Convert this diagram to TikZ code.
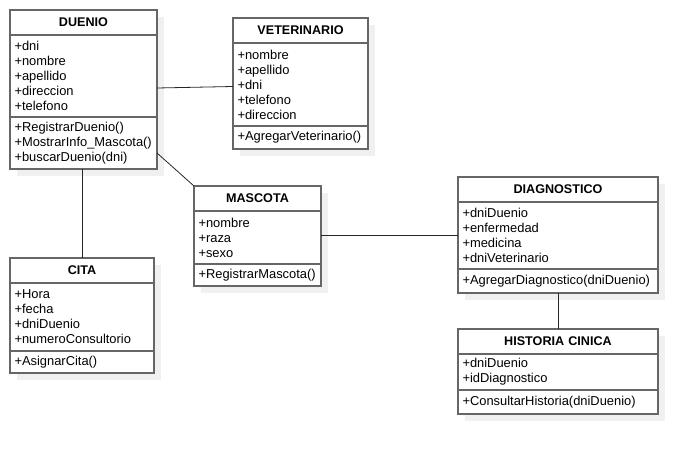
\documentclass[tikz,border=0pt]{standalone}
\usepackage{fontspec}
\setmainfont{Liberation Sans}
\usetikzlibrary{positioning,shadows}

\tikzset{
  box/.style={draw=black!60, line width=1.2pt, fill=white, outer sep=0pt,
    inner xsep=4.5pt, inner ysep=0pt,
    drop shadow={shadow xshift=7pt, shadow yshift=-7pt, fill=black!6, opacity=1, draw=none}},
  title/.style={box, minimum height=25pt, align=center, font=\fontsize{12.6}{15}\selectfont\bfseries},
  part/.style={box, align=left, font=\fontsize{12.9}{15}\selectfont},
  link/.style={draw=black!85, line width=0.8pt}
}

\begin{document}
\begin{tikzpicture}[x=1pt, y=-1pt]
\useasboundingbox (0,0) rectangle (698,455);
% clases
\node [title, text width=138pt, anchor=north west] (duenio) at (10,10) {DUENIO};
\node [part, text width=138pt, minimum height=82pt, below=0pt of duenio] (duenio-a) {+dni\\+nombre\\+apellido\\+direccion\\+telefono};
\node [part, text width=138pt, minimum height=52pt, below=0pt of duenio-a] (duenio-m) {+RegistrarDuenio()\\+MostrarInfo\_Mascota()\\+buscarDuenio(dni)};

\node [title, text width=126pt, anchor=north west] (vet) at (233,18) {VETERINARIO};
\node [part, text width=126pt, minimum height=83pt, below=0pt of vet] (vet-a) {+nombre\\+apellido\\+dni\\+telefono\\+direccion};
\node [part, text width=126pt, minimum height=23pt, below=0pt of vet-a] (vet-m) {+AgregarVeterinario()};

\node [title, text width=118pt, anchor=north west] (mascota) at (194,186) {MASCOTA};
\node [part, text width=118pt, minimum height=53pt, below=0pt of mascota] (mascota-a) {+nombre\\+raza\\+sexo};
\node [part, text width=118pt, minimum height=22pt, below=0pt of mascota-a] (mascota-m) {+RegistrarMascota()};

\node [title, text width=135pt, anchor=north west] (cita) at (10,258) {CITA};
\node [part, text width=135pt, minimum height=68pt, below=0pt of cita] (cita-a) {+Hora\\+fecha\\+dniDuenio\\+numeroConsultorio};
\node [part, text width=135pt, minimum height=22pt, below=0pt of cita-a] (cita-m) {+AsignarCita()};

\node [title, text width=191pt, anchor=north west] (diag) at (458,177) {DIAGNOSTICO};
\node [part, text width=191pt, minimum height=67pt, below=0pt of diag] (diag-a) {+dniDuenio\\+enfermedad\\+medicina\\+dniVeterinario};
\node [part, text width=191pt, minimum height=24pt, below=0pt of diag-a] (diag-m) {+AgregarDiagnostico(dniDuenio)};

\node [title, text width=191pt, anchor=north west] (hist) at (458,329) {HISTORIA CINICA};
\node [part, text width=191pt, minimum height=36pt, below=0pt of hist] (hist-a) {+dniDuenio\\+idDiagnostico};
\node [part, text width=191pt, minimum height=24pt, below=0pt of hist-a] (hist-m) {+ConsultarHistoria(dniDuenio)};

% relaciones
\draw [link] ([yshift=-12pt]duenio-a.east) -- ([yshift=-2pt]vet-a.west);
\draw [link] ([yshift=-10pt]duenio-m.east) -- (mascota.north west);
\draw [link] (cita.north) -- (cita.north |- duenio-m.south);
\draw [link] (diag-a.west) -- (diag-a.west -| mascota-a.east);
\draw [link] (diag-m.south) -- (hist.north);
\end{tikzpicture}
\end{document}
